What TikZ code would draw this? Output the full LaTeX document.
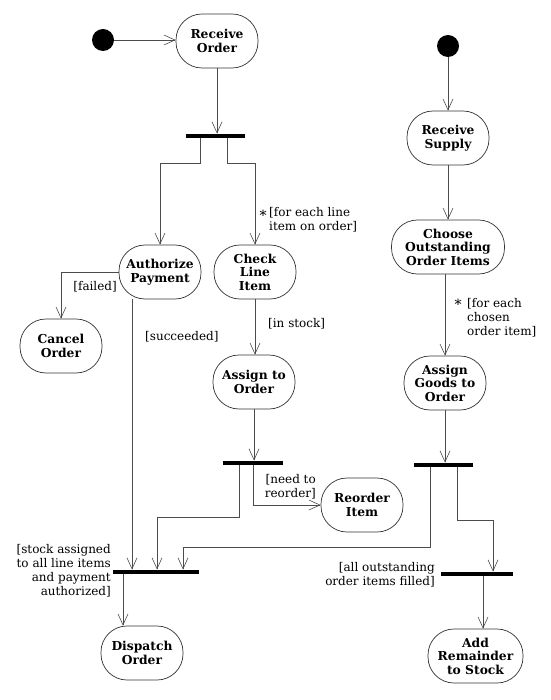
\documentclass[tikz,border=0pt]{standalone}
\usepackage{fontspec}
\setmainfont{DejaVu Serif}
\usetikzlibrary{arrows.meta}
\begin{document}
\begin{tikzpicture}[x=1pt,y=-1pt,
  act/.style={draw=black!80, line width=0.7pt, rounded corners=26pt, minimum width=82pt, minimum height=54pt, inner sep=0pt, align=center, font=\bfseries\fontsize{12.3}{13.5}\selectfont},
  bar/.style={fill=black, inner sep=0pt, minimum height=4.5pt},
  startdot/.style={circle, fill=black, minimum size=22pt, inner sep=0pt},
  arr/.style={draw=black!70, line width=0.6pt, -{Straight Barb[length=11pt,width=10pt]}},
  lbl/.style={font=\fontsize{12}{14}\selectfont, inner sep=0pt}
]
\useasboundingbox (0,0) rectangle (550,700);
% nodes
\node[startdot] (s1) at (103,40) {};
\node[act] (ro) at (217,41) {Receive\\Order};
\node[bar, minimum width=59pt] (b1) at (215.5,136) {};
\node[act] (ap) at (160,272) {Authorize\\Payment};
\node[act] (cli) at (255,272) {Check\\Line\\Item};
\node[act] (co) at (61,346) {Cancel\\Order};
\node[act] (ato) at (254,382) {Assign to\\Order};
\node[bar, minimum width=60pt] (b2) at (253,463) {};
\node[act] (ri) at (362,505) {Reorder\\Item};
\node[bar, minimum width=86pt] (b5) at (156,572) {};
\node[act] (do) at (142,653) {Dispatch\\Order};
\node[startdot] (s2) at (448,46) {};
\node[act] (rs) at (448,138) {Receive\\Supply};
\node[act, minimum width=113pt] (coi) at (448,247) {Choose\\Outstanding\\Order Items};
\node[act] (ago) at (445,383) {Assign\\Goods to\\Order};
\node[bar, minimum width=59pt] (b3) at (443.5,465) {};
\node[bar, minimum width=72pt] (b4) at (477,574) {};
\node[act, minimum width=95pt] (ars) at (475.5,656) {Add\\Remainder\\to Stock};
% helper coordinates
\coordinate (apo) at ([xshift=-28pt]ap.south);
\coordinate (c2) at (157,517);
\coordinate (c3) at (183,547);
\coordinate (c4) at (493,520);
\coordinate (b4o) at ([xshift=6pt]b4.south);
\coordinate (b5o) at ([xshift=-33pt]b5.south);
% connectors
\draw[arr] (s1.east) -- (s1.east -| ro.west);
\draw[arr] (ro.south) -- (ro.south |- b1.north);
\draw[arr] ([xshift=-15.5pt]b1.south) -- ++(0,25) -| (ap.north);
\draw[arr] ([xshift=11.5pt]b1.south) -- ++(0,25) -| (cli.north);
\draw[arr] (ap.west) -| (co.north);
\draw[arr] (apo) -- (apo |- b5.north);
\draw[arr] (cli.south) -- (cli.south |- ato.north);
\draw[arr] (ato.south) -- (ato.south |- b2.north);
\draw[arr] ([xshift=-14pt]b2.south) |- (c2) -- (c2 |- b5.north);
\draw[arr] (b2.south) |- (ri.west);
\draw[arr] ([xshift=-13.5pt]b3.south) |- (c3) -- (c3 |- b5.north);
\draw[arr] ([xshift=13.5pt]b3.south) |- (c4) -- (c4 |- b4.north);
\draw[arr] (b4o) -- (b4o |- ars.north);
\draw[arr] (b5o) -- (b5o |- do.north);
\draw[arr] (s2.south) -- (rs.north);
\draw[arr] (rs.south) -- (coi.north);
\draw[arr] (coi.south -| ago.north) -- (ago.north);
\draw[arr] (ago.south) -- (ago.south |- b3.north);
% labels
\node[lbl, anchor=east] (lf) at (117,287) {[failed]};
\node[lbl, anchor=west] (ls) at (145,337) {[succeeded]};
\node[lbl, anchor=west] (lis) at (268,324) {[in stock]};
\node[lbl, font=\fontsize{14}{14}\selectfont] (st1) at (263,215) {*};
\node[lbl, anchor=north west, align=left] (lfe) at (269,207) {[for each line\\item on order]};
\node[lbl, anchor=east, align=right] (lnr) at (316,487) {[need to\\reorder]};
\node[lbl, font=\fontsize{14}{14}\selectfont] (st2) at (458,304) {*};
\node[lbl, anchor=north west, align=left] (lfc) at (467,298) {[for each\\chosen\\order item]};
\node[lbl, anchor=east, align=right] (lsa) at (111,571) {[stock assigned\\to all line items\\and payment\\authorized]};
\node[lbl, anchor=east, align=right] (lao) at (435,575) {[all outstanding\\order items filled]};
\end{tikzpicture}
\end{document}
